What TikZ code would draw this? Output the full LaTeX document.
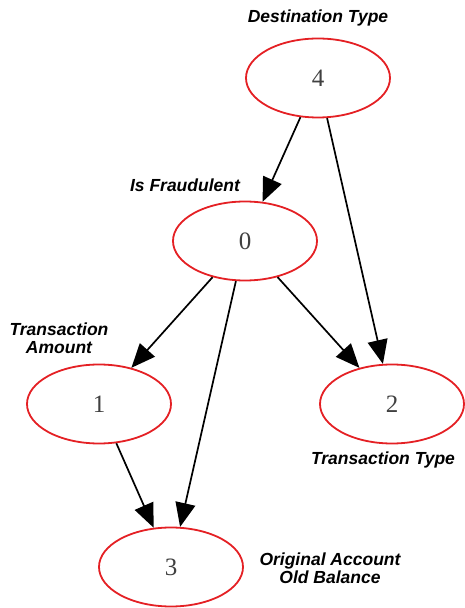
\documentclass[tikz,border=0pt]{standalone}
\usepackage{fontspec}
\setmainfont{Liberation Serif}
\newfontfamily\labelfont{Liberation Sans}
\usepackage{tikz}
\usetikzlibrary{arrows.meta,positioning,shapes.geometric}
\definecolor{nodeRed}{RGB}{228,32,36}

\begin{document}
\begin{tikzpicture}[
x=1pt, y=1pt,
var/.style={ellipse, draw=nodeRed, line width=1.8pt, minimum width=144pt, minimum height=79pt, inner sep=0pt, font=\fontsize{25}{30}\selectfont, text=black!75},
tag/.style={align=center, font=\labelfont\bfseries\itshape\fontsize{17.5}{17.5}\selectfont},
arrow/.style={-{Triangle[length=24pt, width=20pt]}, line width=1.7pt}
]
\useasboundingbox (0,0) rectangle (464,608);

\node[var] (n4) at (318,530) {4};
\node[var] (n0) at (245,367) {0};
\node[var] (n1) at (99,204) {1};
\node[var] (n2) at (392,204) {2};
\node[var] (n3) at (171,41) {3};

\node[tag] (dest) at (318,590) {Destination Type};
\node[tag] (fraud) at (185,423) {Is Fraudulent};
\node[tag] (amount) at (59,270) {Transaction\\Amount};
\node[tag] (ttype) at (383,148) {Transaction Type};
\node[tag] (balance) at (330,40) {Original Account\\Old Balance};

\draw[arrow] (n4) -- (n0);
\draw[arrow] (n4) -- (n2);
\draw[arrow] (n0) -- (n1);
\draw[arrow] (n0) -- (n3);
\draw[arrow] (n0) -- (n2);
\draw[arrow] (n1) -- (n3);
\end{tikzpicture}
\end{document}
